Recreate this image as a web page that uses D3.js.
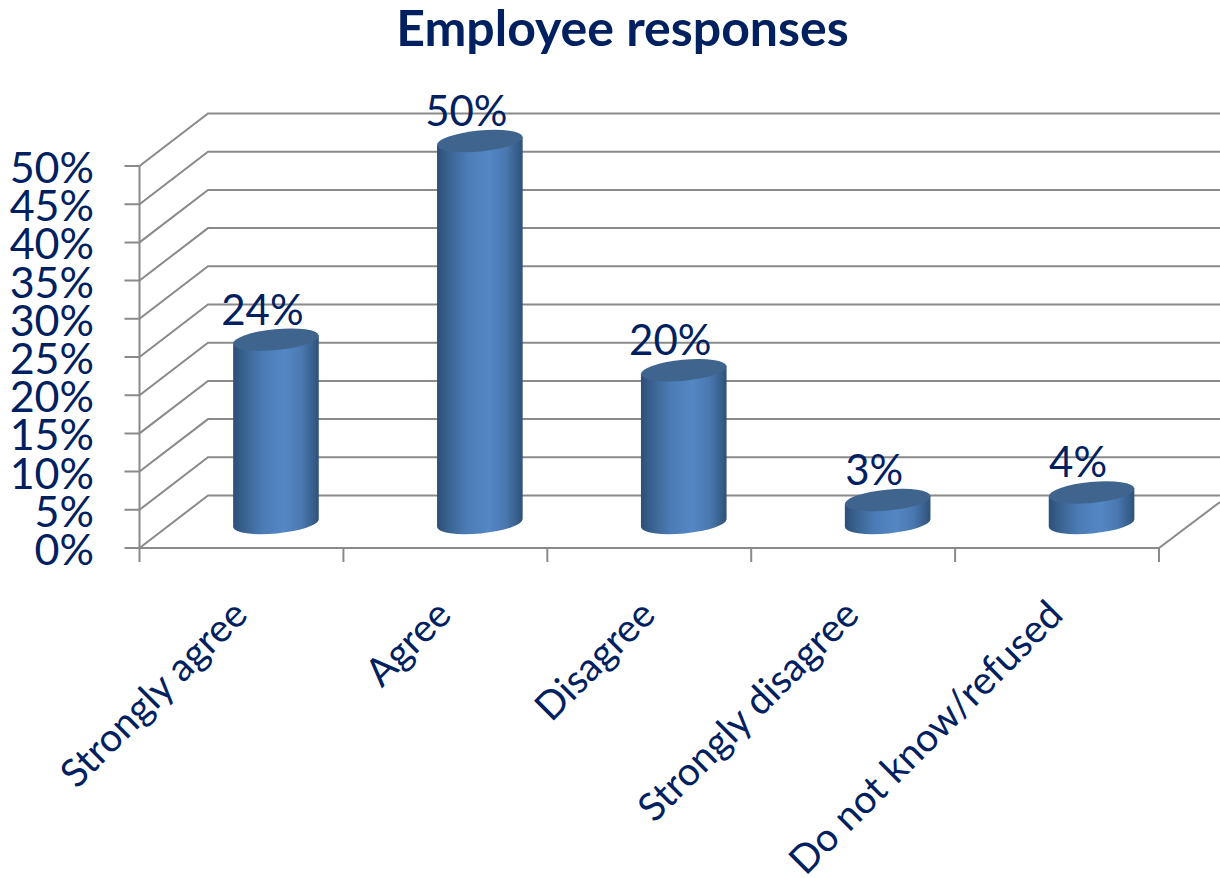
<!DOCTYPE html>
<html>
<head>
<meta charset="utf-8">
<script src="https://cdn.jsdelivr.net/npm/d3@7/dist/d3.min.js"></script>
<style>
html,body{margin:0;padding:0;background:#fff;}
svg{display:block;}
text{font-family:Lato,"Open Sans",sans-serif;fill:#002060;}
</style>
</head>
<body>
<svg id="chart" width="1220" height="878"></svg>
<script>
const chartTitle = "Employee responses";
const categories = ["Strongly agree", "Agree", "Disagree", "Strongly disagree", "Do not know/refused"];
const responseShares = [24, 50, 20, 3, 4];
const axisTicks = [0, 5, 10, 15, 20, 25, 30, 35, 40, 45, 50];

const svg = d3.select("#chart");
const frontLeft = 139.5, frontRight = 1159, depthX = 68.5, depthY = 52.5;
const gridColor = "#8a8a8a";

const x = d3.scaleBand().domain(categories).range([frontLeft, frontRight]);
const y = d3.scaleLinear().domain([0, 50]).range([548, 166]);

// Horizontal shading around the cylinder bodies
const grad = svg.append("defs").append("linearGradient").attr("id", "cylinderBody");
[[0, "#2d4e78"], [0.12, "#39618e"], [0.35, "#4b7cb6"], [0.6, "#5587c6"], [0.8, "#4a78b0"], [0.95, "#365c88"], [1, "#2f5078"]]
  .forEach(([o, c]) => grad.append("stop").attr("offset", o).attr("stop-color", c));

// Back wall and left wall gridlines
const grid = svg.append("g").attr("stroke", gridColor).attr("stroke-width", 2).attr("fill", "none");
axisTicks.forEach(t => {
  grid.append("path").attr("d", d3.line()([
    [frontLeft - 15, y(t)],
    [frontLeft, y(t)],
    [frontLeft + depthX, y(t) - depthY],
    [1220, y(t) - depthY]
  ]));
});

// Floor edges: front axis, right wall edge and category ticks
grid.append("path").attr("d", d3.line()([[frontLeft, y(50)], [frontLeft, y(0)], [frontRight, y(0)], [frontRight + 61, y(0) - 46]]));
[...categories.map(c => x(c)), frontRight].forEach(px => {
  grid.append("line").attr("x1", px).attr("x2", px).attr("y1", y(0)).attr("y2", y(0) + 14);
});

// Cylinders sit halfway into the floor depth
const rx = 43, ry = 10.5, tilt = -5.5;
const cosT = Math.cos(tilt * Math.PI / 180), sinT = Math.sin(tilt * Math.PI / 180);
const baseShift = 25;
const bars = svg.append("g").selectAll("g").data(categories).join("g");
bars.each(function (c, i) {
  const v = responseShares[i];
  const cx = x(c) + x.bandwidth() / 2 + 34.5;
  const yBase = y(0) - baseShift;
  const yTop = y(v) - baseShift;
  const dx = rx * cosT, dy = rx * sinT;
  const g = d3.select(this);
  g.append("path")
    .attr("fill", "url(#cylinderBody)")
    .attr("d", `M${cx - dx},${yTop - dy} L${cx - dx},${yBase - dy} ` +
      `A${rx},${ry} ${tilt} 0 0 ${cx + dx},${yBase + dy} L${cx + dx},${yTop + dy} Z`);
  g.append("ellipse")
    .attr("rx", rx).attr("ry", ry).attr("fill", "#3f658f")
    .attr("transform", `translate(${cx},${yTop}) rotate(${tilt})`);
  g.append("text")
    .attr("x", cx - 13.5).attr("y", yTop - 15)
    .attr("text-anchor", "middle").attr("font-size", 42)
    .text(v + "%");
});

// Value axis labels
svg.append("g").selectAll("text").data(axisTicks).join("text")
  .attr("x", 94).attr("y", d => y(d) + 17)
  .attr("text-anchor", "end").attr("font-size", 43)
  .text(d => d + "%");

// Slanted category labels
svg.append("g").selectAll("text").data(categories).join("text")
  .attr("text-anchor", "end").attr("font-size", 39)
  .attr("transform", c => `translate(${x(c) + x.bandwidth() / 2 + 8},${617}) rotate(-45)`)
  .text(c => c);

svg.append("text")
  .attr("x", 622.5).attr("y", 46).attr("text-anchor", "middle")
  .attr("font-size", 50).attr("font-weight", 700)
  .text(chartTitle);
</script>
</body>
</html>
